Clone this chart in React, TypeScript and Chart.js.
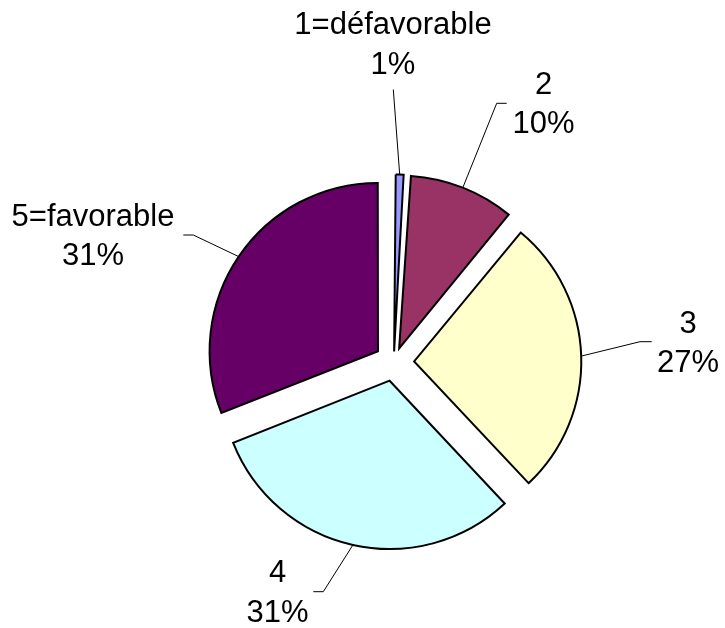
import React, { useEffect, useRef } from "react";
import { Chart, registerables } from "chart.js";

Chart.register(...registerables);

const categories = ["1=défavorable", "2", "3", "4", "5=favorable"];
const values = [1, 10, 27, 31, 31];
const colors = ["#9999FF", "#993366", "#FFFFCC", "#CCFFFF", "#660066"];

// label layout (page pixels): centre x, first baseline, leader polyline (label side)
const labelLayout = [
  { cx: 393, base: 34, leader: [[393.3, 89.5]] },
  { cx: 543.5, base: 93.5, leader: [[506.7, 103.3], [496.7, 103.3]] },
  { cx: 688, base: 332.5, leader: [[651.7, 341.7], [640, 341.7]] },
  { cx: 277.5, base: 582, leader: [[313.3, 591.7], [323.3, 591.7]] },
  { cx: 93, base: 225.5, leader: [[183.3, 235], [193.3, 235]] },
];

const EXPLODE = 20.5; // px
const RADIUS = 167;
const LINE_GAP = 39.5;
const FONT = '31px "Liberation Sans", Arial, sans-serif';

const labelsPlugin = {
  id: "pieLabels",
  afterDraw(chart: any) {
    const ctx = chart.ctx;
    const meta = chart.getDatasetMeta(0);
    const data = chart.data.datasets[0].data as number[];
    const total = data.reduce((a, b) => a + b, 0);
    ctx.save();
    meta.data.forEach((arc: any, i: number) => {
      const p = arc.getProps(["x", "y", "startAngle", "endAngle", "outerRadius"], true);
      const mid = (p.startAngle + p.endAngle) / 2;
      const circ = p.endAngle - p.startAngle;
      const off = (arc.options.offset || 0) / 4;
      const trans = off * (1 + (1 - Math.sin(Math.min(Math.PI, circ))));
      const ax = p.x + Math.cos(mid) * (trans + p.outerRadius);
      const ay = p.y + Math.sin(mid) * (trans + p.outerRadius);
      const lay = labelLayout[i];
      // leader line
      ctx.strokeStyle = "#000";
      ctx.lineWidth = 1;
      ctx.beginPath();
      lay.leader.forEach((pt: number[], k: number) => {
        if (k === 0) ctx.moveTo(pt[0], pt[1]);
        else ctx.lineTo(pt[0], pt[1]);
      });
      ctx.lineTo(ax, ay);
      ctx.stroke();
      // text
      ctx.fillStyle = "#000";
      ctx.font = FONT;
      ctx.textAlign = "center";
      ctx.textBaseline = "alphabetic";
      const pct = Math.round((data[i] / total) * 100) + "%";
      ctx.fillText(chart.data.labels[i], lay.cx, lay.base);
      ctx.fillText(pct, lay.cx, lay.base + LINE_GAP);
    });
    ctx.restore();
  },
};

export default function App() {
  const ref = useRef<HTMLCanvasElement>(null);
  useEffect(() => {
    if (!ref.current) return;
    const total = values.reduce((a, b) => a + b, 0);
    const chart = new Chart(ref.current, {
      type: "pie",
      data: {
        labels: categories,
        datasets: [
          {
            data: values,
            backgroundColor: colors,
            borderColor: "#000000",
            borderWidth: 2,
            borderJoinStyle: "miter",
            offset: (c: any) => {
              const v = values[c.dataIndex] ?? 0;
              const circ = (2 * Math.PI * v) / total;
              return (4 * EXPLODE) / (2 - Math.sin(Math.min(Math.PI, circ)));
            },
            hoverOffset: 0,
          } as any,
        ],
      },
      options: {
        responsive: false,
        devicePixelRatio: 1,
        animation: false,
        radius: RADIUS,
        layout: { padding: { left: 62.6, right: 0, top: 96, bottom: 0 } },
        plugins: {
          legend: { display: false },
          tooltip: { enabled: false },
        },
        events: [],
      } as any,
      plugins: [labelsPlugin],
    });
    return () => chart.destroy();
  }, []);
  return (
    <div style={{ position: "absolute", left: 0, top: 0, width: 725, height: 628, background: "#fff" }}>
      <canvas ref={ref} width={725} height={628} style={{ width: 725, height: 628, display: "block" }} />
    </div>
  );
}
